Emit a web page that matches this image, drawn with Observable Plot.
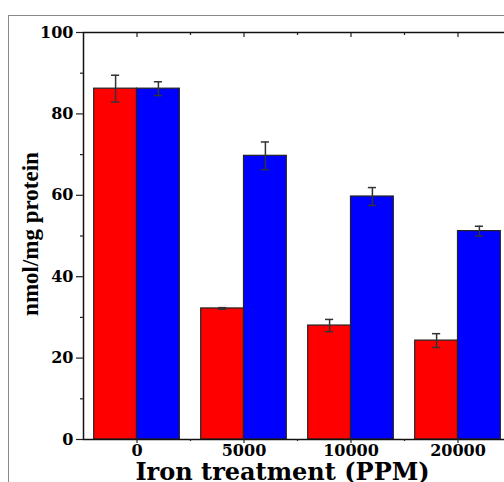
<!DOCTYPE html>
<html><head><meta charset="utf-8">
<script src="https://cdn.jsdelivr.net/npm/d3@7"></script>
<script src="https://cdn.jsdelivr.net/npm/@observablehq/plot@0.6"></script>
<style>
html,body{margin:0;padding:0;background:#fff;width:504px;height:482px;overflow:hidden;}
#wrap{position:relative;width:504px;height:482px;overflow:hidden;background:#fff;}
#border{position:absolute;left:8px;top:15px;width:700px;height:700px;border:1.5px solid #8a8a8a;box-sizing:border-box;}
#chart{position:absolute;left:0;top:0;}
</style></head><body>
<div id="wrap"><div id="border"></div><div id="chart"></div></div>
<script>
// ---- data ----
const categories = ["0", "5000", "10000", "20000"];
const redValues  = [86.2, 32.2, 28.0, 24.3];
const redErrors  = [3.3, 0.2, 1.5, 1.7];
const blueValues = [86.2, 69.7, 59.7, 51.2];
const blueErrors = [1.7, 3.4, 2.2, 1.2];
const yTicks = [0, 20, 40, 60, 80, 100];
const yMinorTicks = [10, 30, 50, 70, 90];
const xLabel = "Iron treatment (PPM)";
const yLabel = "nmol/mg protein";

// ---- layout / style ----
const half = 0.4;      // each bar's width, in category units
const capHalf = 0.038; // error-bar cap half width, in category units
const W = 520, H = 482;

const rows = [];
categories.forEach((c, i) => {
  rows.push({cat: c, i, series: "red", x1: i - half, x2: i, v: redValues[i], e: redErrors[i]});
  rows.push({cat: c, i, series: "blue", x1: i, x2: i + half, v: blueValues[i], e: blueErrors[i]});
});
const xc = d => (d.x1 + d.x2) / 2;
const catIdx = categories.map((c, i) => i);
const between = categories.slice(1).map((c, i) => i + 0.5);
const blank = () => "";

const plot = Plot.plot({
  width: W, height: H,
  marginLeft: 83, marginRight: W - 511, marginTop: 32, marginBottom: 43,
  style: {fontFamily: "'DejaVu Serif', serif", fontWeight: "bold", fontSize: "16px", color: "#000", background: "transparent", maxWidth: "none"},
  x: {domain: [-0.5, categories.length - 0.5]},
  y: {domain: [0, 100]},
  marks: [
    Plot.rect(rows.filter(d => d.series === "red"), {x1: "x1", x2: "x2", y1: 0, y2: "v", fill: "#ff0000", stroke: "#222", strokeWidth: 1.2}),
    Plot.rect(rows.filter(d => d.series === "blue"), {x1: "x1", x2: "x2", y1: 0, y2: "v", fill: "#0000ff", stroke: "#222", strokeWidth: 1.2}),
    Plot.ruleX(rows, {x: xc, y1: d => d.v - d.e, y2: d => d.v + d.e, stroke: "#333", strokeWidth: 1.5}),
    Plot.ruleY(rows, {y: d => d.v + d.e, x1: d => xc(d) - capHalf, x2: d => xc(d) + capHalf, stroke: "#333", strokeWidth: 1.5}),
    Plot.ruleY(rows, {y: d => d.v - d.e, x1: d => xc(d) - capHalf, x2: d => xc(d) + capHalf, stroke: "#333", strokeWidth: 1.5}),
    Plot.frame({stroke: "#111", strokeWidth: 1.5}),
    Plot.axisY({ticks: yTicks, tickSize: 7, tickPadding: 3, label: null, stroke: "#222", strokeWidth: 1.2}),
    Plot.axisY({ticks: yMinorTicks, tickSize: 3, tickFormat: blank, label: null, stroke: "#222", strokeWidth: 1.2}),
    Plot.axisY({anchor: "right", ticks: yTicks, tickSize: -7, tickFormat: blank, label: null, stroke: "#222", strokeWidth: 1.2}),
    Plot.axisY({anchor: "right", ticks: yMinorTicks, tickSize: -3, tickFormat: blank, label: null, stroke: "#222", strokeWidth: 1.2}),
    Plot.axisX({ticks: catIdx, tickFormat: i => categories[i], tickSize: 4, tickPadding: 1, label: null, stroke: "#222", strokeWidth: 1.2}),
    Plot.axisX({ticks: between, tickSize: 2, tickFormat: blank, label: null, stroke: "#222", strokeWidth: 1.2}),
    Plot.axisX({anchor: "top", ticks: catIdx, tickSize: -4, tickFormat: blank, label: null, stroke: "#222", strokeWidth: 1.2}),
    Plot.axisX({anchor: "top", ticks: between, tickSize: -2, tickFormat: blank, label: null, stroke: "#222", strokeWidth: 1.2}),
    Plot.text([xLabel], {frameAnchor: "bottom", textAnchor: "middle", lineAnchor: "bottom", dx: -15, dy: 40, fontSize: 24, fontWeight: "bold", fontFamily: "'DejaVu Serif', serif", fill: "#000"}),
    Plot.text([yLabel], {frameAnchor: "left", textAnchor: "middle", lineAnchor: "middle", rotate: -90, dx: -53, dy: -2, fontSize: 23, fontWeight: "bold", fontFamily: "'Liberation Serif', serif", fill: "#000"})
  ]
});
document.getElementById("chart").appendChild(plot);
</script>
</body></html>
